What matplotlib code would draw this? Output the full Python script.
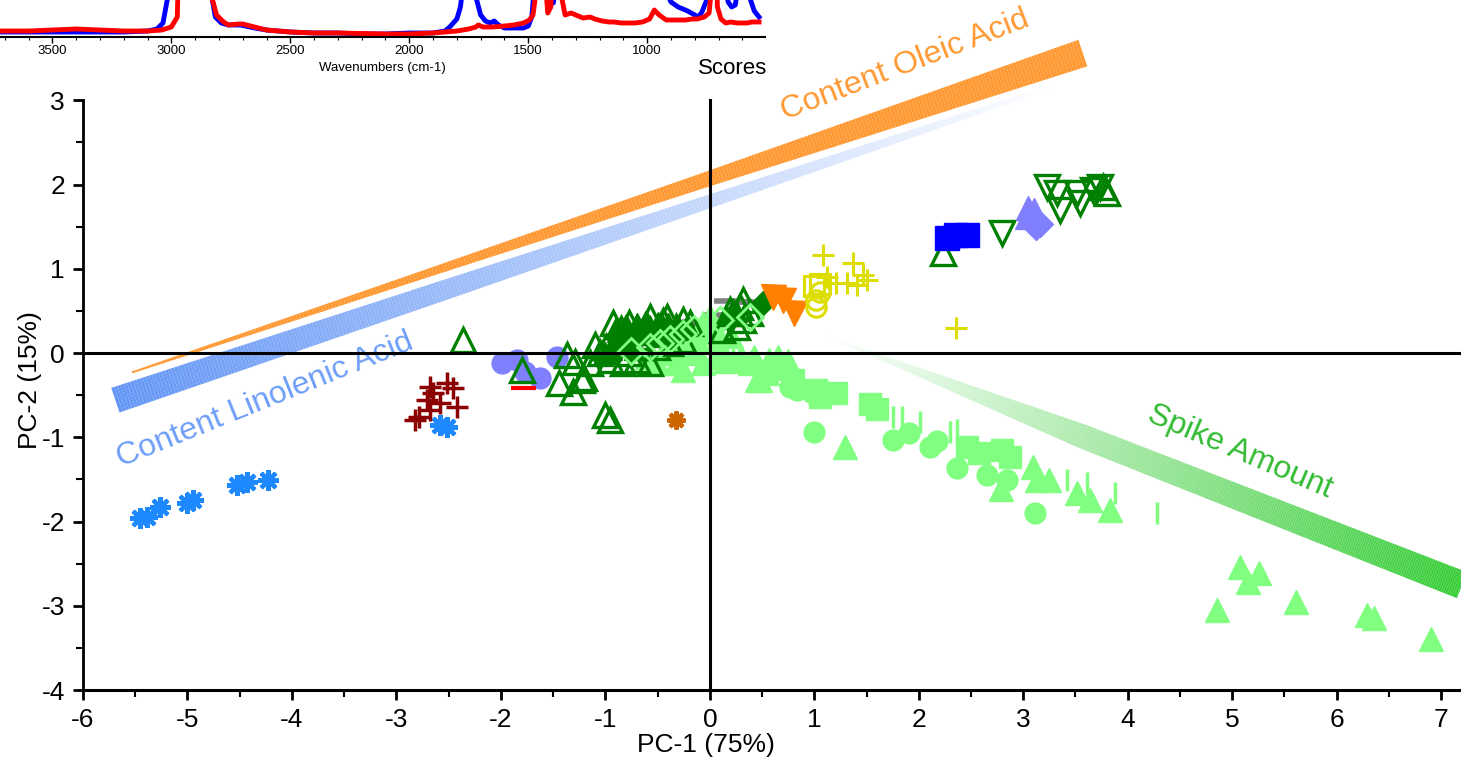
import numpy as np
import matplotlib.pyplot as plt
from matplotlib.collections import LineCollection
from matplotlib.colors import to_rgb
from matplotlib.ticker import MultipleLocator, FixedLocator

plt.rcParams['font.family'] = ['Liberation Sans', 'DejaVu Sans']

# ---- inset spectrum (only the bottom of it is visible) ----
wn_blue = [3720, 3600, 3500, 3400, 3300, 3200, 3100, 3060, 3035, 3015,
           3000, 2850, 2830, 2815, 2790, 2760, 2710, 2650, 2600, 2500,
           2400, 2300, 2200, 2100, 2000, 1900, 1850, 1830, 1800, 1785,
           1770, 1745, 1720, 1700, 1680, 1660, 1643, 1625, 1600, 1560,
           1520, 1500, 1485, 1475, 1460, 1420, 1405, 1395, 1385, 1370,
           1000, 950, 930, 900, 870, 830, 800, 785, 770, 745,
           725, 700, 680, 660, 645, 630, 610, 590, 570, 550, 530]
int_blue = [5, 5, 5, 5, 5, 5, 6, 8, 14, 40,
            150, 150, 40, 20, 14, 12, 12, 9, 7, 5,
            4, 4, 3, 3, 4, 4, 6, 10, 18, 30,
            60, 150, 40, 22, 16, 14, 16, 12, 9, 9,
            9, 11, 20, 50, 150, 60, 38, 34, 45, 150,
            150, 100, 50, 35, 30, 26, 22, 20, 25, 40,
            80, 120, 70, 35, 30, 32, 60, 55, 40, 26, 20]
wn_red = [3720, 3600, 3500, 3400, 3300, 3200, 3100, 3040, 3000, 2975,
          2960, 2850, 2830, 2810, 2780, 2760, 2720, 2700, 2650, 2600,
          2500, 2400, 2300, 2200, 2100, 2000, 1900, 1800, 1750, 1720,
          1710, 1690, 1650, 1600, 1560, 1520, 1495, 1480, 1470, 1455,
          1430, 1418, 1405, 1390, 1377, 1360, 1345, 1320, 1300, 1270,
          1240, 1220, 1190, 1160, 1140, 1110, 1080, 1050, 1020, 990,
          970, 950, 920, 900, 870, 840, 810, 790, 760, 740,
          725, 718, 705, 690, 670, 650, 620, 600, 580, 560, 530]
int_red = [6, 6, 7, 8, 7, 6, 6, 7, 10, 20,
           150, 150, 40, 22, 15, 12, 13, 13, 10, 7,
           5, 4, 4, 3.5, 3, 3, 4, 6, 8, 10,
           12, 10, 10, 11, 12, 14, 17, 22, 40, 150,
           60, 24, 30, 150, 150, 40, 22, 24, 22, 19,
           20, 18, 16, 15, 15, 14, 14, 14, 15, 18,
           27, 22, 17, 17, 17, 17, 18, 18, 20, 24,
           60, 150, 30, 18, 14, 15, 14, 14, 14, 15, 15]

# ---- score groups ----
blue_star_x = [-5.45, -5.39, -5.26, -5.00, -4.95, -4.53, -4.43, -4.23, -2.58, -2.52]
blue_star_y = [-1.96, -1.95, -1.83, -1.78, -1.74, -1.57, -1.53, -1.51, -0.85, -0.88]

maroon_plus_x = [-2.68, -2.52, -2.46, -2.71, -2.58, -2.42, -2.78, -2.68, -2.82, -2.65]
maroon_plus_y = [-0.40, -0.36, -0.42, -0.56, -0.59, -0.64, -0.76, -0.68, -0.79, -0.47]

purple_circle_x = [-1.99, -1.85, -1.77, -1.63, -1.46]
purple_circle_y = [-0.12, -0.08, -0.23, -0.30, -0.05]

red_dash_x = [-1.79]
red_dash_y = [-0.42]

dkgreen_open_up_x = [-2.36, -1.80, -1.37, -1.29, -1.44, -1.31, -1.20, -1.00, -0.96, 2.23, 3.76, 3.80,
                     -0.93, -0.77, -0.57, -0.41, -0.26, -1.05, -0.99, -0.89, -0.83, -0.70,
                     -0.57, -0.45, -0.32, -0.19, -0.96, -0.83, -0.70, -0.57, -0.77, -0.64,
                     -0.51, -0.38, -0.26, -1.15, -1.22, 0.22, 0.29, 0.32, 0.26, 0.38, 0.12,
                     0.19, 0.32, -0.85, -0.62, -0.45, -1.10]
dkgreen_open_up_y = [0.15, -0.20, -0.02, -0.11, -0.36, -0.46, -0.30, -0.74, -0.79, 1.19, 1.97, 1.90,
                     0.36, 0.36, 0.43, 0.43, 0.39, 0.00, 0.07, 0.15, 0.24, 0.19,
                     0.27, 0.27, 0.31, 0.36, -0.08, -0.12, -0.08, -0.12, 0.00, 0.07,
                     0.07, 0.12, 0.15, -0.12, -0.32, 0.47, 0.55, 0.39, 0.31, 0.47, 0.27,
                     0.51, 0.63, 0.28, 0.32, 0.38, 0.10]

dkgreen_fill_x = [-0.90, -0.80, -0.70, -0.60, -0.50, -0.40, -0.30, -0.20, -0.85, -0.75,
                  -0.65, -0.55, -0.45, -0.95, -1.00, 0.15, 0.25, -0.35, -0.25, -0.72]
dkgreen_fill_y = [0.30, 0.33, 0.35, 0.36, 0.36, 0.34, 0.32, 0.30, 0.15, 0.20,
                  0.22, 0.22, 0.20, 0.05, 0.00, 0.45, 0.50, 0.18, 0.22, 0.05]

dkgreen_open_down_x = [2.80, 3.23, 3.32, 3.35, 3.51, 3.54, 3.67, 3.73]
dkgreen_open_down_y = [1.42, 1.97, 1.90, 1.70, 1.90, 1.78, 1.93, 1.97]

dkgreen_diamond_x = [0.51]
dkgreen_diamond_y = [0.59]

gray_dash_x = [-0.25, -0.15, 0.15, 0.28, 0.40, 0.05]
gray_dash_y = [0.33, 0.37, 0.62, 0.60, 0.60, 0.45]

ltgreen_open_diamond_x = [-0.75, -0.57, -0.48, -0.38, -0.26, -0.15, 0.10, 0.38]
ltgreen_open_diamond_y = [0.02, 0.07, 0.12, 0.17, 0.22, 0.28, 0.39, 0.43]

ltgreen_tri_x = [-0.51, -0.32, -0.26, -0.07, -0.12, -0.07, 0.07, 0.00, 0.22, 0.38, 0.55, 0.45,
                 0.57, 0.48, 1.29, 2.79, 3.09, 3.13, 3.25, 3.51, 3.64, 3.83,
                 5.07, 5.26, 5.15, 4.85, 5.61, 6.29, 6.36, 6.90,
                 -0.60, -0.45, -0.30, -0.15, 0.05, 0.10, 0.15, -0.05, 0.05, 0.30,
                 0.42, 0.65, 0.75, 0.62, -0.20, 0.20]
ltgreen_tri_y = [-0.12, -0.12, -0.20, -0.12, 0.15, 0.36, 0.15, 0.43, -0.08, -0.12, -0.24, -0.32,
                 -0.08, -0.32, -1.11, -1.62, -1.35, -1.51, -1.51, -1.66, -1.74, -1.86,
                 -2.54, -2.61, -2.72, -3.05, -2.95, -3.11, -3.14, -3.40,
                 -0.05, 0.00, 0.05, 0.00, -0.05, 0.05, -0.10, 0.25, 0.30, -0.05,
                 -0.05, -0.05, -0.10, -0.18, 0.10, 0.20]

ltgreen_circle_x = [0.70, 0.77, 0.83, 0.99, 1.00, 1.75, 1.91, 2.11, 2.17, 2.37, 2.65, 2.84, 3.11]
ltgreen_circle_y = [-0.12, -0.40, -0.44, -0.48, -0.94, -1.03, -0.95, -1.11, -1.05, -1.36, -1.45, -1.51, -1.90]

ltgreen_square_x = [0.80, 1.02, 1.05, 1.21, 1.53, 1.60, 2.46, 2.58, 2.80, 2.87]
ltgreen_square_y = [-0.32, -0.44, -0.52, -0.48, -0.60, -0.67, -1.11, -1.19, -1.15, -1.23]

ltgreen_bar_x = [1.75, 1.84, 2.01, 2.30, 2.37, 3.42, 3.61, 3.88, 4.28]
ltgreen_bar_y = [-0.76, -0.76, -0.82, -0.94, -0.91, -1.51, -1.54, -1.66, -1.90]

orange_down_x = [0.60, 0.70, 0.81]
orange_down_y = [0.66, 0.63, 0.47]

yellow_circle_x = [1.02, 1.02, 1.05]
yellow_circle_y = [0.63, 0.55, 0.72]
yellow_square_x = [1.00, 1.05]
yellow_square_y = [0.80, 0.82]
yellow_plus_x = [1.08, 1.37, 1.47, 1.50, 1.31, 1.21, 1.12, 1.41, 2.36]
yellow_plus_y = [1.16, 1.07, 0.93, 0.87, 0.83, 0.83, 0.90, 0.81, 0.30]

blue_square_x = [2.27, 2.36, 2.46]
blue_square_y = [1.36, 1.40, 1.40]

lilac_tri_x = [3.05, 3.10, 3.04]
lilac_tri_y = [1.72, 1.70, 1.61]
lilac_diamond_x = [3.12, 3.16]
lilac_diamond_y = [1.50, 1.53]

brown_star_x = [-0.32]
brown_star_y = [-0.79]

# ---- loading bands: start, end ----
oleic_start, oleic_end = (-5.53, -0.23), (3.57, 3.56)
linolenic_start, linolenic_end = (-5.69, -0.56), (3.30, 3.17)
spike_start, spike_end = (1.10, 0.21), (7.25, -2.78)

fig = plt.figure(figsize=(14.61, 7.62), dpi=100)
ax = fig.add_axes([83 / 1461, 72 / 762, (1461 - 83) / 1461, 690 / 762])
ax.set_xlim(-6, 7.19)
ax.set_ylim(-4, 4.19)


def band(p0, p1, t_w, widths, c0, c1, n=300):
    t = np.linspace(0, 1, n + 1)
    xs = p0[0] + (p1[0] - p0[0]) * t
    ys = p0[1] + (p1[1] - p0[1]) * t
    pts = np.column_stack([xs, ys])
    segs = np.stack([pts[:-1], pts[1:]], axis=1)
    tm = (t[:-1] + t[1:]) / 2
    lw = np.interp(tm, t_w, widths) * 0.72
    c0, c1 = np.array(to_rgb(c0)), np.array(to_rgb(c1))
    cols = (1 - tm)[:, None] * c0 + tm[:, None] * c1
    ax.add_collection(LineCollection(segs, linewidths=lw, colors=cols,
                                     capstyle='butt', zorder=1))


band(oleic_start, oleic_end, [0, 0.3, 0.6, 1], [2, 8, 15, 28], '#ff9933', '#ff9933')
band(linolenic_start, linolenic_end, [0, 0.35, 0.65, 1], [26, 20, 13, 4], '#6496f5', '#ffffff')
band(spike_start, spike_end, [0, 0.1, 0.4, 1], [2, 6, 24, 28], '#ffffff', '#33cc33')

ax.text(1.87, 3.42, 'Content Oleic Acid', color='#ff9933', fontsize=23,
        rotation=21, ha='center', va='center')
ax.text(-4.26, -0.56, 'Content Linolenic Acid', color='#6d9ef8', fontsize=23,
        rotation=22, ha='center', va='center')
ax.text(5.07, -1.17, 'Spike Amount', color='#33bb33', fontsize=23,
        rotation=-23, ha='center', va='center')

# scores
ax.plot(blue_star_x, blue_star_y, ls='none', marker=(8, 2, 0), ms=15, mew=3, color='#1e88ff', zorder=3)
ax.plot(maroon_plus_x, maroon_plus_y, ls='none', marker='+', ms=16, mew=2.5, color='#8b0000', zorder=3)
ax.plot(purple_circle_x, purple_circle_y, ls='none', marker='o', ms=15, color='#8080ff', zorder=2)
ax.plot(red_dash_x, red_dash_y, ls='none', marker='_', ms=18, mew=3, color='#ff0000', zorder=2)
ax.plot(dkgreen_fill_x, dkgreen_fill_y, ls='none', marker='^', ms=16, color='#008000', zorder=2.5)
ax.plot(ltgreen_tri_x, ltgreen_tri_y, ls='none', marker='^', ms=17, color='#80ff80', zorder=2.7)
ax.plot(ltgreen_circle_x, ltgreen_circle_y, ls='none', marker='o', ms=15, color='#80ff80', zorder=2)
ax.plot(ltgreen_square_x, ltgreen_square_y, ls='none', marker='s', ms=16, color='#80ff80', zorder=2)
ax.plot(ltgreen_bar_x, ltgreen_bar_y, ls='none', marker='|', ms=16, mew=2.5, color='#80ff80', zorder=2)
ax.plot(ltgreen_open_diamond_x, ltgreen_open_diamond_y, ls='none', marker='D', ms=13, mew=2,
        mfc='none', color='#80ff80', zorder=3.1)
ax.plot(dkgreen_open_up_x, dkgreen_open_up_y, ls='none', marker='^', ms=17, mew=2.4,
        mfc='none', color='#008000', zorder=3)
ax.plot(dkgreen_open_down_x, dkgreen_open_down_y, ls='none', marker='v', ms=17, mew=2.4,
        mfc='none', color='#008000', zorder=3)
ax.plot(dkgreen_diamond_x, dkgreen_diamond_y, ls='none', marker='D', ms=12, color='#008000', zorder=3)
ax.plot(gray_dash_x, gray_dash_y, ls='none', marker='_', ms=18, mew=4, color='#808080', zorder=2)
ax.plot(orange_down_x, orange_down_y, ls='none', marker='v', ms=18, color='#ff8000', zorder=3)
ax.plot(yellow_circle_x, yellow_circle_y, ls='none', marker='o', ms=14, mew=2.2, mfc='none', color='#dddd00', zorder=3)
ax.plot(yellow_square_x, yellow_square_y, ls='none', marker='s', ms=14, mew=2.2, mfc='none', color='#dddd00', zorder=3)
ax.plot(yellow_plus_x, yellow_plus_y, ls='none', marker='+', ms=16, mew=2.2, color='#dddd00', zorder=3)
ax.plot(blue_square_x, blue_square_y, ls='none', marker='s', ms=17, color='#0000ff', zorder=3)
ax.plot(lilac_tri_x, lilac_tri_y, ls='none', marker='^', ms=17, color='#8080ff', zorder=3)
ax.plot(lilac_diamond_x, lilac_diamond_y, ls='none', marker='D', ms=13, color='#8080ff', zorder=3)
ax.plot(brown_star_x, brown_star_y, ls='none', marker=(8, 2, 0), ms=13, mew=3, color='#cc6600', zorder=3)

# zero lines
ax.axhline(0, color='black', lw=2.2, zorder=5)
ax.plot([0, 0], [-4, 3], color='black', lw=2.2, zorder=5)

for s in ['top', 'right']:
    ax.spines[s].set_visible(False)
ax.spines['left'].set_bounds(-4, 3)
ax.spines['left'].set_linewidth(2)
ax.spines['bottom'].set_linewidth(2.2)
ax.set_xticks(range(-6, 8))
ax.set_yticks(range(-4, 4))
ax.xaxis.set_minor_locator(MultipleLocator(0.5))
ax.yaxis.set_minor_locator(FixedLocator(np.arange(-3.5, 3.0, 1.0)))
ax.set_xticklabels([str(v) for v in range(-6, 8)])
ax.set_yticklabels([str(v) for v in range(-4, 4)])
ax.tick_params(which='major', length=7, width=2, labelsize=19, pad=6)
ax.tick_params(which='minor', length=5, width=1.5)

fig.text(706 / 1461, 1 - 745 / 762, 'PC-1 (75%)', fontsize=19, ha='center', va='center')
fig.text(30 / 1461, 1 - 380 / 762, 'PC-2 (15%)', fontsize=19, rotation=90, ha='center', va='center')
fig.text(733 / 1461, 1 - 68 / 762, 'Scores', fontsize=16, ha='center', va='center')

# inset
ax_in = fig.add_axes([0, 1 - 37 / 762, 765 / 1461, 100 / 762])
ax_in.set_facecolor('none')
ax_in.plot(wn_blue, int_blue, color='#0000ff', lw=3.5)
ax_in.plot(wn_red, int_red, color='#ff0000', lw=3.5)
ax_in.set_xlim(3720, 505)
ax_in.set_ylim(0, 100)
for s in ['top', 'right', 'left']:
    ax_in.spines[s].set_visible(False)
ax_in.spines['bottom'].set_linewidth(1.5)
ax_in.set_yticks([])
ax_in.xaxis.set_major_locator(MultipleLocator(500))
ax_in.xaxis.set_minor_locator(MultipleLocator(100))
ax_in.tick_params(which='major', length=4, width=1, labelsize=9.5, pad=2)
ax_in.tick_params(which='minor', length=2.5, width=0.8)
ax_in.set_xlabel('Wavenumbers (cm-1)', fontsize=9.5, labelpad=3)

fig.savefig('out.png', dpi=100)
